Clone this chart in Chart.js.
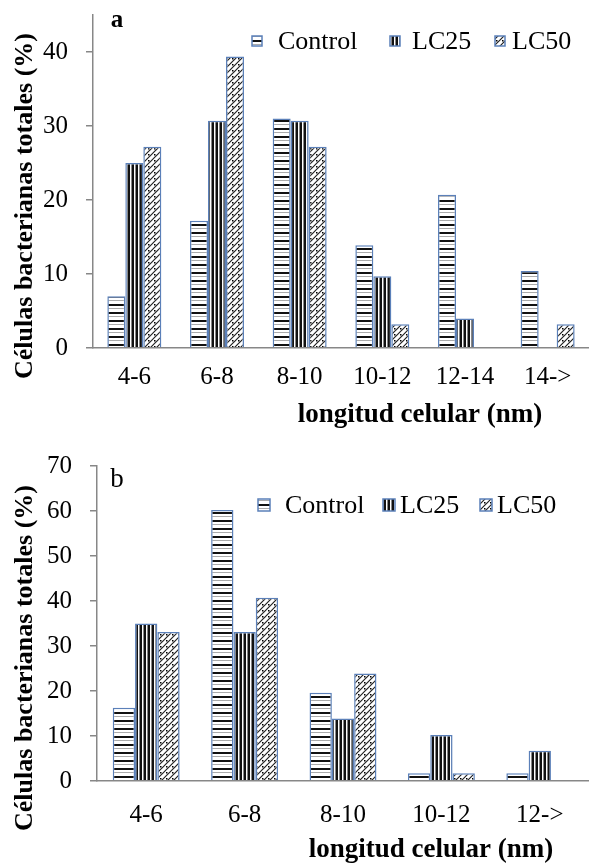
<!DOCTYPE html>
<html>
<head>
<meta charset="utf-8">
<script src="https://cdn.jsdelivr.net/npm/chart.js@4.4.1/dist/chart.umd.min.js"></script>
<style>
html, body { margin: 0; padding: 0; background: #fff; }
#wrapA { position: absolute; left: 0; top: 0; width: 589px; height: 432px; }
#wrapB { position: absolute; left: 0; top: 432px; width: 589px; height: 435px; }
</style>
</head>
<body>
<div id="wrapA"><canvas id="chartA"></canvas></div>
<div id="wrapB"><canvas id="chartB"></canvas></div>
<script>
// data
const SERIES = ['Control', 'LC25', 'LC50'];

const CATS_A = ['4-6', '6-8', '8-10', '10-12', '12-14', '14->'];
const CONTROL_A = [7.0, 17.2, 31.0, 13.9, 20.7, 10.4];
const LC25_A = [25.0, 30.7, 30.7, 9.7, 4.0, 0];
const LC50_A = [27.2, 39.4, 27.2, 3.2, 0, 3.2];
const TICKS_A = [0, 10, 20, 30, 40];

const CATS_B = ['4-6', '6-8', '8-10', '10-12', '12->'];
const CONTROL_B = [16.3, 60.2, 19.6, 1.7, 1.7];
const LC25_B = [35.0, 33.1, 13.9, 10.2, 6.7];
const LC50_B = [33.1, 40.7, 23.9, 1.7, 0];
const TICKS_B = [0, 10, 20, 30, 40, 50, 60, 70];

const Y_TITLE = 'Células bacterianas totales (%)';
const X_TITLE = 'longitud celular (nm)';

const FONT = "'Liberation Serif', 'Times New Roman', serif";
const BORDER = '#5b80b9';
const AXIS = '#878787';

function makePattern(kind) {
  const c = document.createElement('canvas');
  if (kind === 'h') {
    c.width = 8; c.height = 8;
    const g = c.getContext('2d');
    g.fillStyle = '#fff'; g.fillRect(0, 0, 8, 8);
    g.fillStyle = '#111'; g.fillRect(0, 0, 8, 2);
    g.fillStyle = '#aaa'; g.fillRect(0, 4, 8, 1);
  } else if (kind === 'v') {
    c.width = 4; c.height = 4;
    const g = c.getContext('2d');
    g.fillStyle = '#fff'; g.fillRect(0, 0, 4, 4);
    g.fillStyle = '#111'; g.fillRect(0, 0, 2, 4);
    g.fillStyle = '#888'; g.fillRect(3, 0, 1, 4);
  } else {
    c.width = 6; c.height = 6;
    const g = c.getContext('2d');
    g.fillStyle = '#fff'; g.fillRect(0, 0, 6, 6);
    g.strokeStyle = '#222'; g.lineWidth = 1.2;
    g.beginPath();
    g.moveTo(-1, 7); g.lineTo(7, -1);
    g.moveTo(-1, 1); g.lineTo(1, -1);
    g.moveTo(5, 7); g.lineTo(7, 5);
    g.stroke();
    g.fillStyle = '#000'; g.fillRect(4, 4, 1.5, 1.5);
  }
  return c.getContext('2d').createPattern(c, 'repeat');
}

const PATTERNS = [makePattern('h'), makePattern('v'), makePattern('d')];

function makeTextPlugin(geo) {
  return {
    id: 'panelText',
    afterDraw(chart) {
      const ctx = chart.ctx;
      ctx.save();
      ctx.fillStyle = '#000';
      ctx.textAlign = 'center';
      ctx.textBaseline = 'alphabetic';
      ctx.font = geo.letterFont;
      ctx.fillText(geo.letter, geo.letterX, geo.letterY);

      // legend
      ctx.font = '26px ' + FONT;
      ctx.textAlign = 'left';
      ctx.textBaseline = 'middle';
      geo.legend.forEach((it, i) => {
        const s = geo.box;
        ctx.fillStyle = PATTERNS[i];
        ctx.fillRect(it[0], geo.legendY - s / 2, s, s);
        ctx.strokeStyle = BORDER;
        ctx.lineWidth = 1.5;
        ctx.strokeRect(it[0], geo.legendY - s / 2, s, s);
        ctx.fillStyle = '#000';
        ctx.fillText(SERIES[i], it[1], geo.legendY + 1);
      });

      // axis titles
      ctx.font = 'bold 27px ' + FONT;
      ctx.textAlign = 'center';
      ctx.textBaseline = 'alphabetic';
      ctx.fillText(X_TITLE, geo.xTitleX, geo.xTitleY);

      ctx.font = 'bold 26px ' + FONT;
      ctx.translate(geo.yTitleX, geo.yTitleY);
      ctx.rotate(-Math.PI / 2);
      ctx.textBaseline = 'middle';
      ctx.fillText(Y_TITLE, 0, 0);
      ctx.restore();
    }
  };
}

function makeChart(id, cats, control, lc25, lc50, ticks, yMax, geo) {
  const vals = [control, lc25, lc50];
  new Chart(document.getElementById(id), {
    type: 'bar',
    data: {
      labels: cats,
      datasets: SERIES.map((name, i) => ({
        label: name,
        data: vals[i],
        backgroundColor: PATTERNS[i],
        borderColor: BORDER,
        borderWidth: 1.5,
        barPercentage: 1,
        categoryPercentage: geo.catPct
      }))
    },
    options: {
      animation: false,
      responsive: true,
      maintainAspectRatio: false,
      layout: { padding: { top: geo.top, left: 0, right: 0, bottom: 0 } },
      plugins: { legend: { display: false }, tooltip: { enabled: false } },
      scales: {
        x: {
          grid: { display: false, drawTicks: false },
          border: { color: AXIS, width: 1.5, z: 1 },
          ticks: { color: '#000', font: { family: FONT, size: 25 }, padding: geo.xPad, maxRotation: 0 },
          afterFit(s) { s.height = geo.xh; }
        },
        y: {
          min: 0,
          max: yMax,
          grid: { drawOnChartArea: false, tickLength: 7, color: AXIS, lineWidth: 1.5 },
          border: { color: AXIS, width: 1.5, z: 1 },
          ticks: { color: '#000', font: { family: FONT, size: 25 }, padding: 18 },
          afterBuildTicks(s) { s.ticks = ticks.map(v => ({ value: v })); },
          afterFit(s) {
            s.width = geo.left;
            s.paddingTop = 0;
            s.paddingBottom = 0;
          }
        }
      }
    },
    plugins: [makeTextPlugin(geo)]
  });
}

makeChart('chartA', CATS_A, CONTROL_A, LC25_A, LC50_A, TICKS_A, 45, {
  top: 15, left: 93, xh: 84, xPad: 14, catPct: 0.653,
  letter: 'a', letterFont: 'bold 25px ' + FONT, letterX: 117, letterY: 27,
  legendY: 41, box: 10, legend: [[252, 278], [390, 412], [495, 512]],
  xTitleX: 420, xTitleY: 422, yTitleX: 25, yTitleY: 206
});

makeChart('chartB', CATS_B, CONTROL_B, LC25_B, LC50_B, TICKS_B, 70, {
  top: 34, left: 97, xh: 86, xPad: 19, catPct: 0.68,
  letter: 'b', letterFont: '27px ' + FONT, letterX: 117, letterY: 55,
  legendY: 73, box: 12, legend: [[258, 285], [383, 400], [480, 497]],
  xTitleX: 431, xTitleY: 425, yTitleX: 25, yTitleY: 226
});
</script>
</body>
</html>
